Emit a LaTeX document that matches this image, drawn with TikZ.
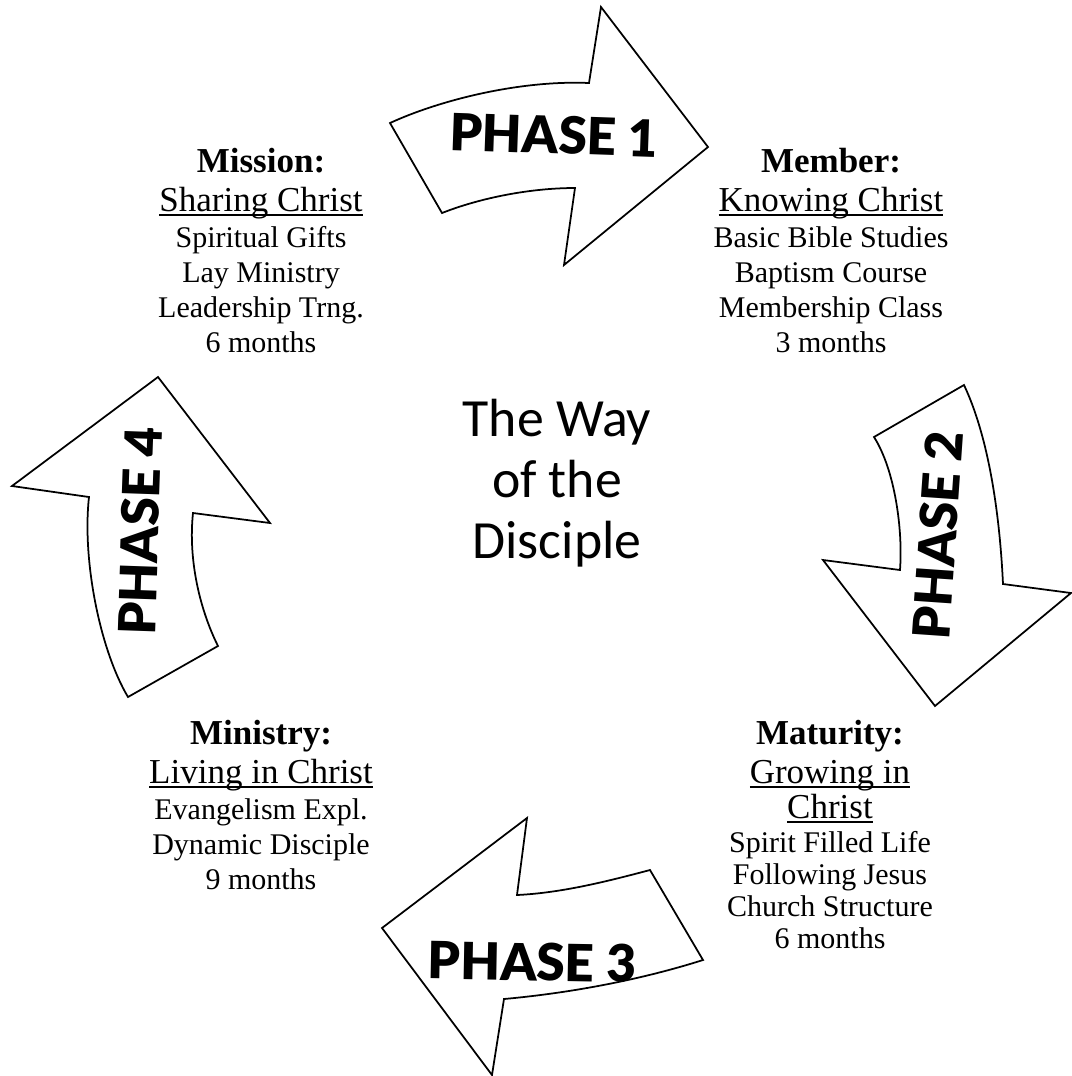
\documentclass[tikz,border=0pt]{standalone}
\usepackage{fontspec}
\setmainfont{Liberation Serif}
\newfontfamily\phasefont{Lato Black}
\newfontfamily\wayfont{Carlito}
\tikzset{
  phasearrow/.style={draw, line width=0.7pt, line join=miter, fill=white},
  phaselabel/.style={font=\phasefont\fontsize{20.5}{22}\selectfont, inner sep=0pt},
  stage/.style={align=center, anchor=north, inner sep=0pt, font=\fontsize{12}{14}\selectfont}
}
\newcommand{\stagehead}[1]{{\fontsize{14}{16}\selectfont\bfseries #1}}
\newcommand{\stagesub}[1]{{\fontsize{14}{16}\selectfont\setbox0\hbox{#1}\rlap{\rule[-1.8pt]{\wd0}{0.8pt}}\box0}}
\begin{document}
\begin{tikzpicture}[x=0.4pt, y=-0.4pt]
			\useasboundingbox (0,0) rectangle (1072,1076);
			
			\draw[phasearrow] (390,123) .. controls (440,100) and (520,80) .. (589,83) -- (601,7) -- (708,147) -- (564,265) -- (575,188) .. controls (530,188) and (480,198) .. (442,213) -- cycle;
			\draw[phasearrow] (964,385) -- (874,437) .. controls (895,470) and (903,530) .. (900,570) -- (823,560) -- (935,706) -- (1071,593) -- (1003,584) .. controls (1000,520) and (990,440) .. cycle;
			\draw[phasearrow] (650,870) .. controls (605,882) and (560,893) .. (517,895) -- (527,818) -- (382,928) -- (492,1075) -- (504,999) .. controls (570,993) and (640,980) .. (703,960) -- cycle;
			\draw[phasearrow] (128,697) .. controls (100,650) and (82,560) .. (89,497) -- (12,486) -- (158,377) -- (270,523) -- (193,513) .. controls (188,560) and (200,610) .. (218,646) -- cycle;
			
			\node[rotate=-2, phaselabel] (phase1) at (554,135) {PHASE 1};
			\node[rotate=86, phaselabel] (phase2) at (938,535) {PHASE 2};
			\node[rotate=-1, phaselabel] (phase3) at (532,962) {PHASE 3};
			\node[rotate=88, phaselabel] (phase4) at (140,531) {PHASE 4};
			
			\node[stage] (mission) at (261,148) {\stagehead{Mission:}\\[1.5pt] \stagesub{Sharing Christ}\\[0.5pt] Spiritual Gifts\\ Lay Ministry\\ Leadership Trng.\\ 6 months};
			\node[stage] (member) at (831,148) {\stagehead{Member:}\\[1.5pt] \stagesub{Knowing Christ}\\[0.5pt] Basic Bible Studies\\ Baptism Course\\ Membership Class\\ 3 months};
			\node[stage] (ministry) at (261,720) {\stagehead{Ministry:}\\[1.5pt] \stagesub{Living in Christ}\\[0.5pt] Evangelism Expl.\\ Dynamic Disciple\\ 9 months};
			\node[stage, font=\fontsize{12}{12.8}\selectfont] (maturity) at (830,720) {\stagehead{Maturity:}\\[2.5pt] \stagesub{Growing in}\\[1.5pt] \stagesub{Christ}\\[0.5pt] Spirit Filled Life\\ Following Jesus\\ Church Structure\\ 6 months};
			
			\node[font=\wayfont\fontsize{21.5}{24.4}\selectfont, align=center, anchor=north, inner sep=0pt] (way) at (557,399) {The Way\\of the\\Disciple};
			
		\end{tikzpicture}
\end{document}
